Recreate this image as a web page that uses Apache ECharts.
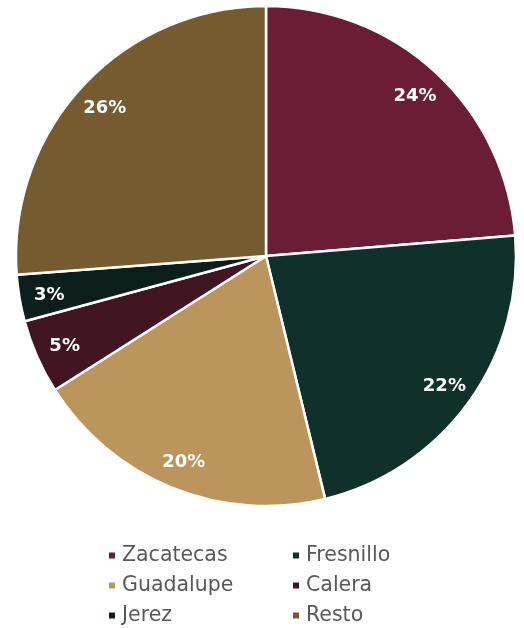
<!DOCTYPE html>
<html>
<head>
<meta charset="utf-8">
<script src="https://cdn.jsdelivr.net/npm/echarts@6/dist/echarts.min.js"></script>
<style>html,body{margin:0;padding:0;background:#fff;}#c{width:524px;height:628px;}</style>
</head>
<body>
<div id="c"></div>
<script>
const categories = ['Zacatecas', 'Fresnillo', 'Guadalupe', 'Calera', 'Jerez', 'Resto'];
const values = [23.7, 22.5, 19.8, 4.8, 3.0, 26.2];
const labels = ['24%', '22%', '20%', '5%', '3%', '26%'];
const colors = ['#6B1D35', '#10302C', '#BC955C', '#411421', '#0C1E1B', '#765B31'];

const chart = echarts.init(document.getElementById('c'));
const data = categories.map((n, i) => ({ name: n, value: values[i], itemStyle: { color: colors[i] } }));
const labelData = categories.map((n, i) => ({ name: n, value: values[i], label: { formatter: labels[i] } }));
const legendText = { fontFamily: 'DejaVu Sans', fontSize: 20.5, color: '#595959', lineHeight: 20, padding: [0, 0, 0, 1] };
const legendBase = { orient: 'vertical', top: 545, height: 120, padding: 0, icon: 'rect', itemWidth: 8, itemHeight: 8, itemGap: 9, textStyle: legendText };
chart.setOption({
  animation: false,
  color: colors,
  legend: [
    Object.assign({}, legendBase, { left: 107, data: ['Zacatecas', 'Guadalupe', 'Jerez'] }),
    Object.assign({}, legendBase, { left: 291, data: ['Fresnillo', 'Calera', 'Resto'] })
  ],
  series: [
    {
      type: 'pie', center: [266, 256], radius: [0, 250], startAngle: 90, clockwise: true,
      label: { show: false }, labelLine: { show: false },
      itemStyle: { borderColor: '#fff', borderWidth: 2.5 },
      data: data
    },
    {
      type: 'pie', center: [266, 256], radius: [184, 250], startAngle: 90, clockwise: true, silent: true,
      itemStyle: { color: 'rgba(0,0,0,0)' },
      label: { show: true, position: 'inside', color: '#fff', fontFamily: 'DejaVu Sans', fontWeight: 'bold', fontSize: 18, offset: [0, 2] },
      labelLine: { show: false },
      data: labelData
    }
  ]
});
</script>
</body>
</html>
